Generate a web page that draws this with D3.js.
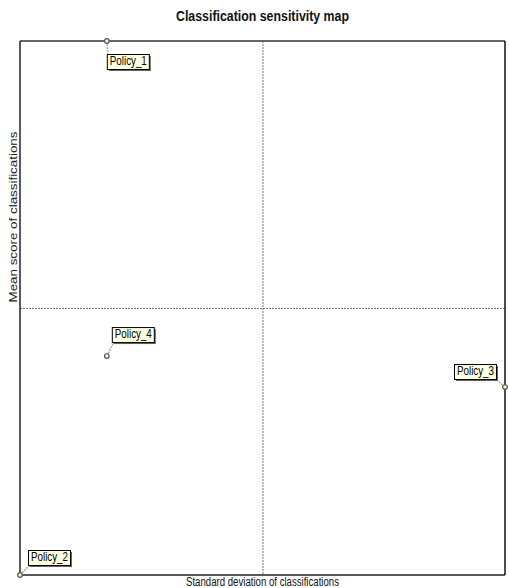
<!DOCTYPE html>
<html><head><meta charset="utf-8">
<script src="https://cdn.jsdelivr.net/npm/d3@7"></script>
<style>body{margin:0;background:#fff;}</style>
</head><body><svg id="c" width="509" height="588"></svg>
<script>
// Data (normalized positions on the sensitivity map)
const policies = ["Policy_1", "Policy_2", "Policy_3", "Policy_4"];
const stdDev   = [0.179, 0.0, 1.0, 0.179];
const meanScore= [1.0, 0.0, 0.352, 0.41];
const title = "Classification sensitivity map";
const xTitle = "Standard deviation of classifications";
const yTitle = "Mean score of classifications";

// Layout
const W = 509, H = 588;
const m = {left: 20, top: 41, right: 4, bottom: 13};
const labelOffsets = { // [dx of box anchor, dy of box anchor, anchor]
  "Policy_1": [0, 13, "tl"],
  "Policy_2": [8, -10, "bl"],
  "Policy_3": [-9, -8, "br"],
  "Policy_4": [5, -14, "bl"]
};

const svg = d3.select("#c");
const x = d3.scaleLinear().domain([0, 1]).range([m.left, W - m.right]);
const y = d3.scaleLinear().domain([0, 1]).range([H - m.bottom, m.top]);

// quadrant dashed lines
svg.append("line").attr("x1", x(0.5)+0.5).attr("x2", x(0.5)+0.5).attr("y1", y(1)).attr("y2", y(0))
  .attr("stroke", "#777").attr("stroke-dasharray", "2,1");
svg.append("line").attr("x1", x(0)).attr("x2", x(1)).attr("y1", y(0.5)+0.5).attr("y2", y(0.5)+0.5)
  .attr("stroke", "#777").attr("stroke-dasharray", "2,1");

// frame
svg.append("line").attr("x1", x(0)).attr("x2", x(1)).attr("y1", y(1)).attr("y2", y(1))
  .attr("stroke", "#666").attr("stroke-width", 2);
svg.append("line").attr("x1", x(0)).attr("x2", x(0)).attr("y1", y(1)).attr("y2", y(0))
  .attr("stroke", "#222").attr("stroke-width", 1.5);
svg.append("line").attr("x1", x(1)).attr("x2", x(1)).attr("y1", y(1)).attr("y2", y(0))
  .attr("stroke", "#111").attr("stroke-width", 1.5);
svg.append("line").attr("x1", x(0)).attr("x2", x(1)).attr("y1", y(0)).attr("y2", y(0))
  .attr("stroke", "#222").attr("stroke-width", 1.5);

// titles
svg.append("text").attr("x", x(0.5)).attr("y", 21).attr("text-anchor", "middle")
  .attr("font-family", "Liberation Sans, Arial, sans-serif").attr("font-size", 14)
  .attr("font-weight", "bold").attr("fill", "#111")
  .attr("textLength", 173).attr("lengthAdjust", "spacingAndGlyphs").text(title);
svg.append("text").attr("x", x(0.5)).attr("y", 586).attr("text-anchor", "middle")
  .attr("font-family", "Liberation Sans, Arial, sans-serif").attr("font-size", 12.5)
  .attr("fill", "#111")
  .attr("textLength", 153).attr("lengthAdjust", "spacingAndGlyphs").text(xTitle);
svg.append("text").attr("transform", "translate(17,217) rotate(-90)").attr("text-anchor", "middle")
  .attr("font-family", "Liberation Sans, Arial, sans-serif").attr("font-size", 10)
  .attr("fill", "#222")
  .attr("textLength", 171).attr("lengthAdjust", "spacingAndGlyphs").text(yTitle);

// points and labels
const g = svg.append("g");
policies.forEach((name, i) => {
  const px = x(stdDev[i]), py = y(meanScore[i]);
  const [dx, dy, anc] = labelOffsets[name];
  const bw = 42, bh = 15;
  let bx = px + dx, by = py + dy;
  if (anc === "bl") by -= bh;
  if (anc === "br") { bx -= bw; by -= bh; }
  let lx, ly;
  if (anc === "tl") { lx = bx + 1; ly = by; }
  else if (anc === "bl") { lx = bx + 2; ly = by + bh; }
  else { lx = bx + bw; ly = by + bh; }
  g.append("line").attr("x1", px).attr("y1", py).attr("x2", lx).attr("y2", ly)
    .attr("stroke", "#aaa").attr("stroke-dasharray", "2,1").attr("stroke-width", 1.5);
  g.append("rect").attr("x", bx + 2).attr("y", by + 2).attr("width", bw).attr("height", bh)
    .attr("fill", "#666");
  g.append("rect").attr("x", bx + 0.5).attr("y", by + 0.5).attr("width", bw).attr("height", bh)
    .attr("fill", "#ffffe1").attr("stroke", "#000").attr("stroke-width", 1);
  g.append("text").attr("x", bx + 3).attr("y", by + 11)
    .attr("font-family", "Liberation Sans, Arial, sans-serif").attr("font-size", 12.5)
    .attr("fill", "#000")
    .attr("textLength", 37).attr("lengthAdjust", "spacingAndGlyphs").text(name);
  g.append("circle").attr("cx", px).attr("cy", py).attr("r", 2.3)
    .attr("fill", "#f4f4d0").attr("stroke", "#555").attr("stroke-width", 1.2);
});
</script></body></html>
